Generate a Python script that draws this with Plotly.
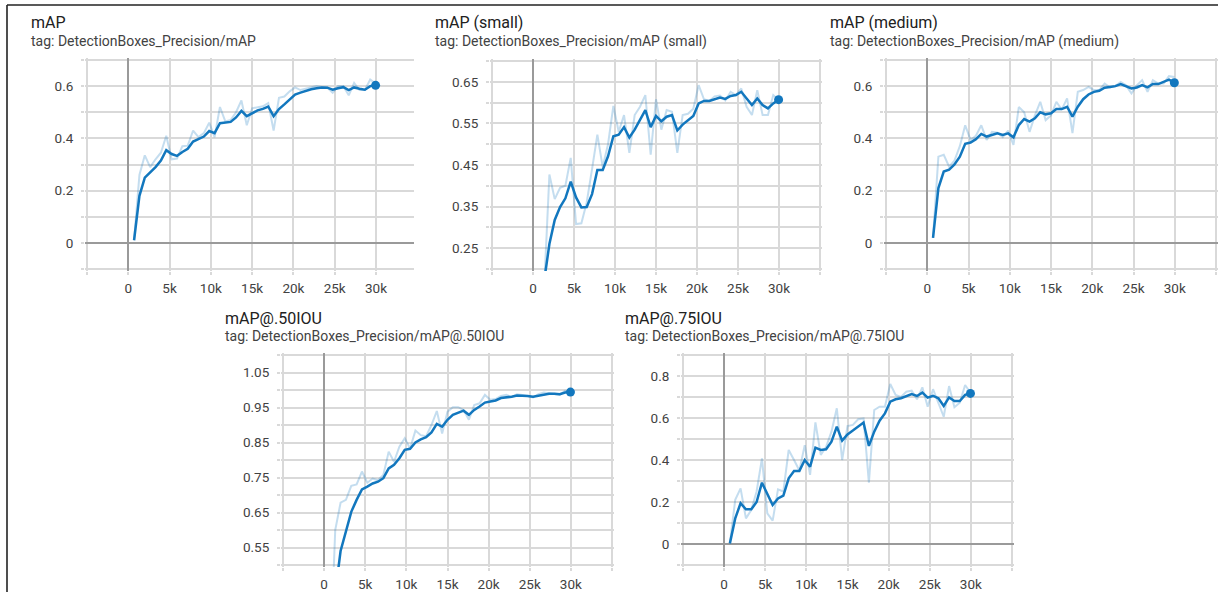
import plotly.graph_objects as go

# ---------------- data ----------------
steps = [700, 1350, 2000, 2650, 3300, 3950, 4600, 5250, 5900, 6550, 7200, 7850,
         8500, 9150, 9800, 10450, 11100, 11750, 12400, 13050, 13700, 14350, 15000,
         15650, 16300, 16950, 17600, 18250, 18900, 19550, 20200, 20850, 21500,
         22150, 22800, 23450, 24100, 24750, 25400, 26050, 26700, 27350, 28000,
         28650, 29300, 29950]

map_raw = [0.01, 0.26, 0.335, 0.29, 0.32, 0.345, 0.41, 0.32, 0.323, 0.37, 0.372, 0.43,
           0.405, 0.42, 0.46, 0.405, 0.52, 0.465, 0.47, 0.5, 0.545, 0.45, 0.515,
           0.52, 0.523, 0.535, 0.43, 0.555, 0.56, 0.58, 0.595, 0.585, 0.59,
           0.593, 0.6, 0.597, 0.595, 0.575, 0.6, 0.6, 0.565, 0.612, 0.585,
           0.585, 0.625, 0.61]
map_smooth = [0.01, 0.18, 0.25, 0.27, 0.29, 0.315, 0.355, 0.34, 0.333, 0.348, 0.36, 0.388,
              0.397, 0.407, 0.428, 0.42, 0.458, 0.46, 0.463, 0.48, 0.505, 0.485, 0.497,
              0.507, 0.513, 0.522, 0.485, 0.512, 0.53, 0.55, 0.568, 0.575, 0.582,
              0.588, 0.592, 0.595, 0.594, 0.586, 0.592, 0.596, 0.585, 0.595, 0.59,
              0.586, 0.6, 0.603]

small_raw = [0.05, 0.15, 0.427, 0.368, 0.395, 0.4, 0.467, 0.308, 0.31, 0.36, 0.44, 0.523,
             0.445, 0.5, 0.592, 0.53, 0.57, 0.479, 0.57, 0.59, 0.618, 0.475, 0.608,
             0.535, 0.582, 0.578, 0.479, 0.57, 0.573, 0.585, 0.642, 0.608, 0.604,
             0.615, 0.617, 0.605, 0.626, 0.618, 0.634, 0.59, 0.57, 0.63, 0.57,
             0.57, 0.618, 0.606]
small_smooth = [0.12, 0.17, 0.26, 0.318, 0.349, 0.37, 0.41, 0.372, 0.348, 0.349, 0.38, 0.438,
                0.438, 0.471, 0.519, 0.523, 0.541, 0.516, 0.535, 0.559, 0.582, 0.541, 0.568,
                0.555, 0.566, 0.57, 0.533, 0.547, 0.557, 0.568, 0.598, 0.604, 0.604,
                0.608, 0.612, 0.609, 0.616, 0.618, 0.626, 0.61, 0.594, 0.61, 0.594,
                0.586, 0.598, 0.607]

medium_raw = [0.019, 0.33, 0.337, 0.292, 0.315, 0.37, 0.45, 0.394, 0.41, 0.45, 0.394, 0.425,
              0.422, 0.405, 0.43, 0.375, 0.52, 0.5, 0.425, 0.488, 0.54, 0.47, 0.488,
              0.54, 0.51, 0.553, 0.42, 0.578, 0.585, 0.597, 0.585, 0.585, 0.61,
              0.595, 0.6, 0.616, 0.603, 0.572, 0.603, 0.623, 0.578, 0.623, 0.61,
              0.61, 0.638, 0.635]
medium_smooth = [0.019, 0.21, 0.273, 0.28, 0.3, 0.33, 0.379, 0.384, 0.397, 0.417, 0.407, 0.413,
                 0.419, 0.413, 0.419, 0.404, 0.451, 0.474, 0.464, 0.477, 0.5, 0.492, 0.496,
                 0.512, 0.512, 0.521, 0.483, 0.521, 0.55, 0.568, 0.578, 0.582, 0.594,
                 0.597, 0.6, 0.608, 0.601, 0.591, 0.595, 0.604, 0.595, 0.608, 0.608,
                 0.616, 0.625, 0.613]

iou50_raw = [0.2, 0.6, 0.678, 0.686, 0.726, 0.73, 0.767, 0.735, 0.747, 0.742, 0.757, 0.824,
             0.795, 0.838, 0.862, 0.833, 0.884, 0.871, 0.868, 0.9, 0.94, 0.876, 0.938,
             0.951, 0.951, 0.943, 0.915, 0.957, 0.962, 0.986, 0.972, 0.974, 0.983,
             0.986, 0.98, 0.988, 0.986, 0.983, 0.979, 0.988, 0.993, 0.991, 0.988,
             0.986, 0.998, 0.995]
iou50_smooth = [0.2, 0.42, 0.54, 0.6, 0.652, 0.686, 0.716, 0.724, 0.733, 0.738, 0.748, 0.776,
                0.786, 0.805, 0.829, 0.832, 0.85, 0.859, 0.865, 0.879, 0.903, 0.895, 0.915,
                0.929, 0.936, 0.941, 0.929, 0.943, 0.953, 0.964, 0.967, 0.97, 0.977,
                0.978, 0.981, 0.984, 0.984, 0.983, 0.981, 0.984, 0.988, 0.989, 0.989,
                0.988, 0.993, 0.994]

iou75_raw = [0.003, 0.21, 0.265, 0.122, 0.162, 0.25, 0.408, 0.146, 0.111, 0.26, 0.25, 0.448,
             0.4, 0.35, 0.471, 0.329, 0.579, 0.424, 0.463, 0.535, 0.646, 0.4, 0.562,
             0.567, 0.594, 0.598, 0.292, 0.638, 0.654, 0.654, 0.762, 0.71, 0.7,
             0.725, 0.73, 0.689, 0.746, 0.654, 0.737, 0.667, 0.606, 0.752, 0.651,
             0.673, 0.757, 0.72]
iou75_smooth = [0.003, 0.122, 0.194, 0.165, 0.165, 0.2, 0.292, 0.241, 0.186, 0.217, 0.23, 0.313,
                0.348, 0.348, 0.4, 0.368, 0.459, 0.448, 0.451, 0.487, 0.559, 0.492, 0.522,
                0.54, 0.559, 0.578, 0.467, 0.535, 0.587, 0.622, 0.678, 0.689, 0.694,
                0.705, 0.714, 0.705, 0.721, 0.697, 0.706, 0.694, 0.657, 0.698, 0.681,
                0.681, 0.71, 0.717]

titles = ["mAP", "mAP (small)", "mAP (medium)", "mAP@.50IOU", "mAP@.75IOU"]
tags = ["tag: DetectionBoxes_Precision/mAP",
        "tag: DetectionBoxes_Precision/mAP (small)",
        "tag: DetectionBoxes_Precision/mAP (medium)",
        "tag: DetectionBoxes_Precision/mAP@.50IOU",
        "tag: DetectionBoxes_Precision/mAP@.75IOU"]

x_tick_vals = [-5000, 0, 5000, 10000, 15000, 20000, 25000, 30000, 35000]
x_tick_text = ["", "0", "5k", "10k", "15k", "20k", "25k", "30k", ""]

y_tick_vals_a = [-0.1, 0, 0.1, 0.2, 0.3, 0.4, 0.5, 0.6, 0.7]
y_tick_text_a = ["", "0", "", "0.2", "", "0.4", "", "0.6", ""]
y_tick_vals_small = [0.2, 0.25, 0.3, 0.35, 0.4, 0.45, 0.5, 0.55, 0.6, 0.65, 0.7]
y_tick_text_small = ["", "0.25", "", "0.35", "", "0.45", "", "0.55", "", "0.65", ""]
y_tick_vals_50 = [0.5, 0.55, 0.6, 0.65, 0.7, 0.75, 0.8, 0.85, 0.9, 0.95, 1.0, 1.05, 1.1]
y_tick_text_50 = ["", "0.55", "", "0.65", "", "0.75", "", "0.85", "", "0.95", "", "1.05", ""]
y_tick_vals_75 = [-0.1, 0, 0.1, 0.2, 0.3, 0.4, 0.5, 0.6, 0.7, 0.8, 0.9]
y_tick_text_75 = ["", "0", "", "0.2", "", "0.4", "", "0.6", "", "0.8", ""]

# ---------------- layout geometry (pixels) ----------------
W, H = 1223, 592
PAD = 2  # extra pixels around each plot so the edge grid lines are kept
panels = [
    # (left, right, top, bottom, xmax, yrange, yvals, ytext, raw, smooth, title_x, title_y)
    (87, 412, 60, 269, 34360, [-0.1, 0.7], y_tick_vals_a, y_tick_text_a, map_raw, map_smooth, 29, 23),
    (492, 820, 61, 269, 35000, [0.2, 0.7], y_tick_vals_small, y_tick_text_small, small_raw, small_smooth, 433, 23),
    (886, 1216, 60, 269, 35000, [-0.1, 0.7], y_tick_vals_a, y_tick_text_a, medium_raw, medium_smooth, 828, 23),
    (283, 612, 355, 565, 35000, [0.5, 1.1], y_tick_vals_50, y_tick_text_50, iou50_raw, iou50_smooth, 223, 318),
    (683, 1012, 355, 565, 35000, [-0.1, 0.9], y_tick_vals_75, y_tick_text_75, iou75_raw, iou75_smooth, 623, 318),
]

DARK = "rgb(18,119,190)"
LIGHT = "rgba(18,119,190,0.25)"
GRID = "#d9d9d9"
ZERO = "#9a9a9a"
FONT = "Roboto"
TICKFONT = dict(family=FONT, size=13.5, color="#424242")

fig = go.Figure()
layout = dict(
    width=W, height=H,
    margin=dict(l=0, r=0, t=0, b=0),
    paper_bgcolor="white", plot_bgcolor="white",
    showlegend=False,
    font=dict(family=FONT, color="#424242"),
    annotations=[], shapes=[],
)

for i, (l, r, t, b, xmax, yr, yv, yt, raw, sm, tx, ty) in enumerate(panels):
    n = "" if i == 0 else str(i + 1)
    xa, ya = "x" + n, "y" + n
    xu = (xmax + 5000) / (r - l)          # data units per pixel (x)
    yu = (yr[1] - yr[0]) / (b - t)        # data units per pixel (y)
    fig.add_trace(go.Scatter(x=steps, y=raw, mode="lines", xaxis=xa, yaxis=ya,
                             line=dict(color=LIGHT, width=2), hoverinfo="skip"))
    fig.add_trace(go.Scatter(x=steps, y=sm, mode="lines", xaxis=xa, yaxis=ya,
                             line=dict(color=DARK, width=2.5), hoverinfo="skip"))
    fig.add_trace(go.Scatter(x=[steps[-1]], y=[sm[-1]], mode="markers", xaxis=xa, yaxis=ya,
                             marker=dict(color=DARK, size=9), hoverinfo="skip", cliponaxis=False))
    layout["xaxis" + n] = dict(
        domain=[(l - PAD) / W, (r + PAD) / W],
        range=[-5000 - PAD * xu, xmax + PAD * xu], anchor=ya,
        tickmode="array", tickvals=x_tick_vals, ticktext=x_tick_text,
        showgrid=True, gridcolor=GRID, gridwidth=1.5,
        zeroline=True, zerolinecolor=ZERO, zerolinewidth=1.5,
        ticks="outside", ticklen=5 - PAD, tickcolor=GRID, tickwidth=1.5,
        ticklabelstandoff=2,
        tickfont=TICKFONT,
        showline=False, fixedrange=True,
    )
    layout["yaxis" + n] = dict(
        domain=[1 - (b + PAD) / H, 1 - (t - PAD) / H],
        range=[yr[0] - PAD * yu, yr[1] + PAD * yu], anchor=xa,
        tickmode="array", tickvals=yv, ticktext=yt,
        showgrid=True, gridcolor=GRID, gridwidth=1.5,
        zeroline=True, zerolinecolor=ZERO, zerolinewidth=1.5,
        ticks="outside", ticklen=5 - PAD, tickcolor=GRID, tickwidth=1.5,
        ticklabelstandoff=5,
        tickfont=TICKFONT,
        showline=False, fixedrange=True,
    )
    layout["annotations"].append(dict(
        text=titles[i], xref="paper", yref="paper", x=tx / W, y=1 - ty / H,
        xanchor="left", yanchor="middle", showarrow=False,
        font=dict(family=FONT, size=16, color="#212121")))
    layout["annotations"].append(dict(
        text=tags[i], xref="paper", yref="paper", x=tx / W, y=1 - (ty + 18) / H,
        xanchor="left", yanchor="middle", showarrow=False,
        font=dict(family=FONT, size=14, color="#424242")))

# page frame (top and left edges)
layout["shapes"].append(dict(type="line", xref="paper", yref="paper",
                             x0=7 / W, x1=1218 / W, y0=1 - 5 / H, y1=1 - 5 / H,
                             line=dict(color="#222222", width=1.6)))
layout["shapes"].append(dict(type="line", xref="paper", yref="paper",
                             x0=7 / W, x1=7 / W, y0=0, y1=1 - 5 / H,
                             line=dict(color="#222222", width=1.6)))

fig.update_layout(**layout)
fig.write_html("out.html", config={"displayModeBar": False})
